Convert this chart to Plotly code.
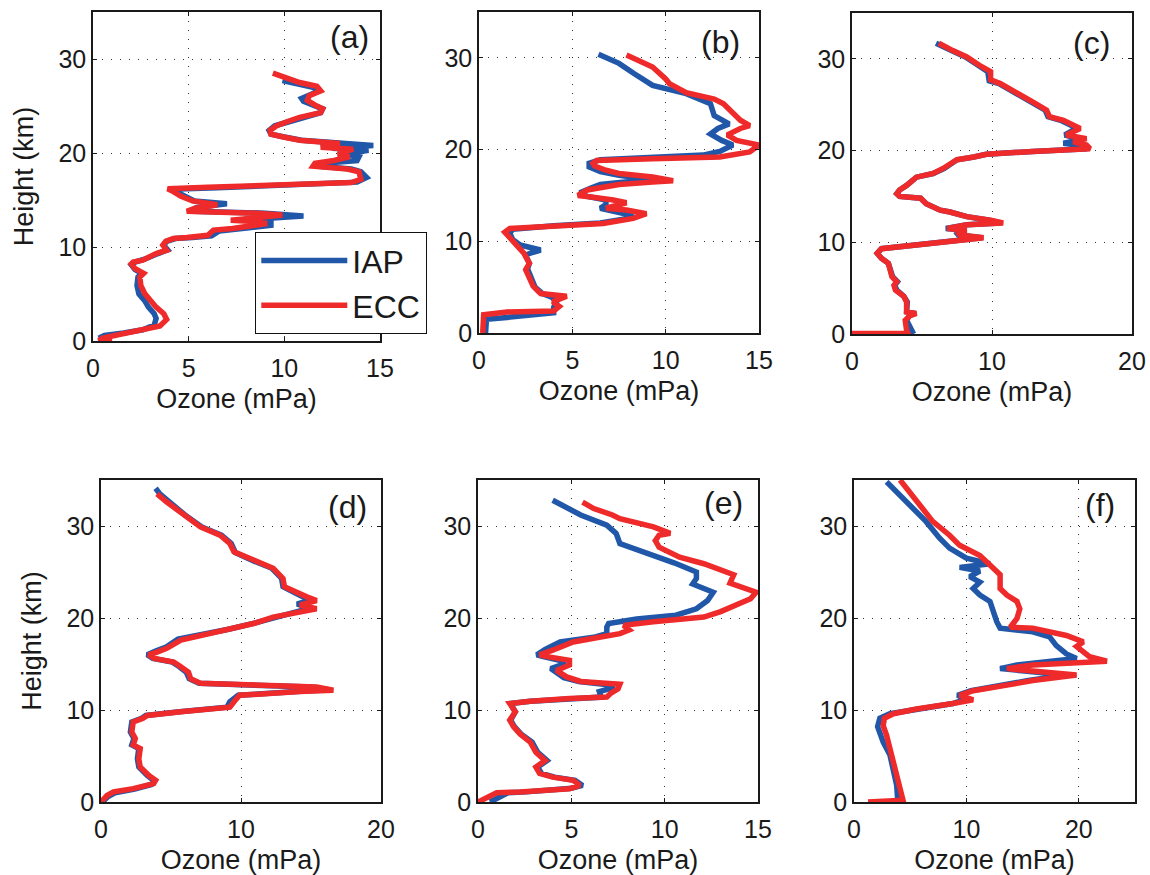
import plotly.graph_objects as go

# ---------------- data: (ozone mPa, height km) pairs ----------------
A_IAP = [(0.3,0.3),(0.6,0.6),(1.6,0.85),(2.6,1.2),(3.2,1.7),(3.3,2.4),(3.2,2.9),(2.9,3.6),(2.7,4.3),(2.4,5.0),(2.3,5.9),(2.35,6.8),(2.55,7.2),(2.2,7.6),(2.0,8.1),(2.2,8.4),(2.7,8.7),(3.0,9.0),(3.4,9.3),(3.9,9.7),(3.7,10.2),(3.85,10.6),(4.3,10.9),(5.2,11.0),(6.2,11.2),(6.6,11.7),(7.6,11.9),(9.3,12.3),(9.3,12.7),(8.0,12.9),(11.0,13.3),(9.0,13.6),(5.2,13.8),(5.4,14.2),(7.0,14.6),(5.3,14.9),(4.8,15.4),(4.3,15.9),(4.1,16.15),(6.5,16.3),(10.5,16.55),(13.8,16.9),(14.3,17.4),(14.0,18.0),(13.5,18.3),(11.8,18.6),(12.0,18.9),(13.8,19.2),(13.9,19.6),(13.2,19.9),(14.4,20.3),(12.5,20.5),(14.65,20.8),(12.2,21.1),(10.9,21.35),(10.0,21.7),(9.3,22.0),(9.2,22.4),(9.5,22.9),(10.2,23.3),(11.0,23.8),(11.9,24.3),(12.0,24.7),(11.6,25.0),(11.0,25.5),(10.9,25.8),(11.4,26.2),(11.8,26.6),(11.5,27.0),(10.6,27.4),(9.9,27.7)]
A_ECC = [(1.0,0.0),(0.3,0.05),(0.5,0.3),(1.5,0.7),(2.6,1.1),(3.5,1.6),(3.85,2.3),(3.7,2.9),(3.3,3.6),(3.0,4.35),(2.7,5.06),(2.5,5.9),(2.45,6.8),(2.65,7.2),(2.2,7.7),(2.0,8.2),(2.1,8.4),(2.6,8.6),(2.9,8.95),(3.3,9.3),(3.85,9.66),(3.65,10.2),(3.8,10.6),(4.2,10.9),(4.9,11.0),(6.0,11.25),(6.3,11.8),(7.3,11.96),(9.1,12.5),(8.4,12.7),(7.2,12.84),(9.9,13.4),(8.5,13.6),(4.9,13.8),(5.3,14.1),(6.5,14.5),(5.2,14.9),(4.6,15.4),(4.2,15.9),(3.9,16.2),(6.0,16.35),(10.0,16.55),(13.5,16.85),(14.0,17.2),(13.9,18.0),(13.3,18.3),(11.5,18.6),(11.6,18.9),(12.6,19.2),(13.4,19.6),(12.8,19.9),(13.6,20.4),(11.9,20.6),(12.9,21.0),(11.7,21.2),(10.8,21.35),(9.95,21.7),(9.3,22.0),(9.25,22.4),(9.6,22.9),(10.1,23.3),(10.8,23.8),(11.9,24.3),(12.0,24.7),(11.7,25.0),(11.2,25.6),(11.3,26.1),(11.9,26.6),(11.7,27.1),(10.8,27.5),(10.1,28.0),(9.4,28.5)]

B_IAP = [(0.35,0.0),(0.4,1.0),(0.4,1.5),(1.5,1.7),(3.0,2.0),(4.0,2.2),(4.0,2.8),(4.15,3.4),(3.9,3.9),(3.4,4.3),(3.0,5.0),(2.8,6.2),(2.6,7.0),(2.7,7.6),(2.5,8.5),(2.9,8.8),(3.3,9.05),(2.8,9.3),(2.2,9.6),(1.8,10.2),(1.65,10.9),(1.8,11.3),(4.0,11.7),(6.5,12.0),(8.3,12.6),(8.0,12.9),(7.0,13.3),(6.5,13.6),(6.8,14.0),(6.8,14.5),(5.8,14.9),(5.4,15.3),(6.0,15.8),(6.5,16.2),(8.5,16.6),(9.3,16.7),(7.5,17.2),(6.5,17.6),(5.9,18.1),(5.9,18.5),(6.5,18.9),(9.5,19.1),(12.0,19.4),(12.9,19.8),(13.6,20.5),(13.0,21.0),(12.4,21.7),(12.8,22.3),(13.4,22.8),(12.6,23.7),(12.4,25.0),(11.1,26.1),(10.0,26.6),(9.3,27.0),(8.3,28.3),(7.5,29.4),(6.4,30.4)]
B_ECC = [(0.2,0.0),(0.2,1.0),(0.25,2.0),(1.5,2.3),(4.0,2.4),(4.3,2.9),(3.95,3.4),(4.7,4.0),(3.3,4.3),(2.9,5.1),(2.7,6.2),(2.5,6.9),(2.7,7.6),(2.4,8.7),(2.0,9.6),(1.56,10.5),(1.38,11.0),(1.65,11.4),(4.0,11.7),(6.65,11.95),(8.26,12.5),(8.97,13.0),(7.9,13.4),(6.8,13.6),(7.9,14.2),(7.2,14.5),(5.9,14.85),(5.3,15.0),(5.8,15.6),(7.5,16.2),(9.3,16.45),(10.4,16.6),(9.3,17.0),(7.5,17.4),(6.8,17.75),(6.2,18.2),(6.1,18.5),(6.3,18.8),(9.3,19.0),(12.9,19.2),(14.5,19.75),(15.0,20.5),(13.8,21.0),(13.3,21.6),(14.0,22.3),(14.5,22.6),(14.0,23.2),(13.5,24.2),(13.1,25.0),(12.6,25.5),(11.1,26.2),(10.2,27.2),(10.0,27.7),(9.3,29.0),(8.6,29.7),(7.9,30.3)]

C_IAP = [(4.4,0.0),(4.2,0.6),(3.9,1.5),(4.1,2.0),(4.5,2.25),(3.9,2.45),(3.95,3.5),(3.7,4.1),(3.2,4.8),(3.05,5.3),(3.25,5.7),(2.9,6.25),(2.75,7.0),(2.6,7.7),(2.1,8.25),(1.8,8.8),(2.1,9.3),(3.4,9.5),(5.3,9.9),(7.2,10.2),(9.3,10.5),(7.6,10.8),(7.4,11.15),(8.1,11.3),(6.7,11.5),(8.2,11.9),(10.6,12.1),(9.8,12.4),(8.2,12.8),(7.0,13.3),(6.3,13.5),(5.3,14.2),(4.9,14.8),(3.4,15.0),(3.2,15.3),(3.4,15.7),(3.9,16.2),(4.6,17.1),(5.8,17.5),(6.6,18.05),(7.5,19.0),(8.7,19.3),(9.6,19.6),(12.9,19.9),(16.8,20.2),(16.5,20.5),(15.1,20.8),(16.5,21.2),(15.2,21.7),(16.0,22.4),(15.6,22.8),(14.9,23.3),(14.0,23.7),(13.8,24.4),(12.8,25.3),(11.7,26.2),(10.5,27.3),(9.8,27.6),(9.7,28.6),(9.0,29.3),(8.1,30.2),(7.1,30.9),(6.0,31.7)]
C_ECC = [(0.0,0.05),(2.0,0.05),(4.0,0.05),(3.9,0.4),(3.8,1.5),(4.15,2.0),(4.6,2.25),(3.9,2.4),(3.9,3.5),(3.7,4.1),(3.1,4.8),(3.0,5.3),(3.2,5.7),(2.85,6.25),(2.7,7.0),(2.6,7.7),(2.1,8.25),(1.8,8.8),(2.1,9.3),(3.4,9.5),(5.3,9.9),(7.2,10.2),(9.4,10.5),(7.7,10.8),(7.5,11.15),(8.2,11.3),(6.8,11.5),(8.2,11.9),(10.8,12.1),(9.9,12.4),(8.2,12.8),(7.0,13.3),(6.3,13.5),(5.3,14.2),(4.9,14.8),(3.4,15.0),(3.2,15.3),(3.4,15.7),(3.9,16.2),(4.6,17.1),(5.8,17.5),(6.5,18.05),(7.5,19.0),(8.7,19.3),(9.6,19.6),(12.9,19.9),(17.0,20.2),(16.75,20.6),(15.8,20.95),(16.75,21.3),(15.3,21.7),(16.3,22.4),(15.8,22.8),(15.1,23.3),(14.1,23.7),(13.9,24.4),(12.9,25.3),(11.8,26.2),(10.6,27.3),(9.9,27.7),(9.9,28.6),(9.1,29.3),(8.2,30.2),(7.2,30.9),(6.2,31.7)]

D_IAP = [(0.1,0.0),(0.5,0.6),(1.0,1.0),(2.4,1.4),(3.6,1.9),(3.8,2.3),(3.3,2.9),(2.7,3.8),(2.6,4.7),(2.7,5.8),(2.2,6.2),(2.35,6.9),(2.1,7.6),(2.2,8.7),(2.9,9.1),(3.2,9.4),(5.6,9.8),(9.0,10.3),(9.2,10.9),(9.8,11.6),(14.0,12.0),(16.3,12.2),(15.0,12.5),(11.5,12.7),(7.0,12.9),(6.3,13.4),(6.1,14.1),(5.6,14.7),(5.1,15.2),(3.7,15.6),(3.3,16.0),(3.9,16.4),(4.6,16.8),(5.5,17.7),(7.2,18.2),(9.2,18.8),(11.1,19.5),(12.5,20.1),(14.2,20.8),(15.0,21.1),(14.0,21.5),(15.0,22.0),(14.3,22.4),(13.6,22.9),(13.0,23.4),(12.9,24.3),(12.2,25.4),(10.9,26.2),(9.6,27.1),(9.3,28.1),(8.6,29.0),(7.2,29.9),(6.0,31.2),(4.9,32.6),(4.2,33.5),(3.9,34.1)]
D_ECC = [(0.0,0.0),(0.43,0.7),(0.9,1.1),(2.3,1.45),(3.76,2.0),(3.9,2.36),(3.4,2.9),(2.8,3.8),(2.7,4.7),(2.8,5.8),(2.3,6.2),(2.45,6.9),(2.2,7.6),(2.3,8.7),(3.0,9.1),(3.3,9.4),(5.7,9.8),(9.2,10.3),(9.5,10.9),(9.9,11.6),(14.2,12.0),(16.6,12.15),(15.4,12.5),(11.8,12.7),(7.1,12.9),(6.4,13.4),(6.25,14.1),(5.7,14.7),(5.2,15.2),(3.8,15.6),(3.4,16.0),(4.0,16.3),(4.7,16.7),(5.7,17.6),(7.1,18.1),(9.0,18.7),(10.9,19.4),(12.3,20.1),(14.2,20.7),(15.4,21.0),(14.2,21.4),(15.4,21.9),(14.7,22.3),(13.8,22.9),(13.1,23.4),(13.0,24.3),(12.3,25.4),(10.9,26.3),(9.5,27.2),(9.2,28.1),(8.5,29.0),(7.1,29.9),(5.9,31.2),(4.7,32.6),(4.0,33.5)]

E_IAP = [(0.64,0.0),(1.36,0.7),(1.6,1.0),(2.6,1.1),(5.0,1.5),(5.6,1.8),(5.2,2.36),(4.1,2.7),(3.4,3.1),(3.2,3.8),(3.7,4.5),(3.2,5.4),(2.9,6.5),(2.3,7.4),(1.95,8.2),(1.75,8.9),(2.0,9.8),(1.75,10.7),(2.8,10.95),(4.9,11.2),(6.6,11.4),(6.5,12.0),(7.2,12.4),(7.2,12.7),(6.5,12.9),(5.4,13.1),(4.6,13.5),(3.9,14.5),(4.6,15.0),(4.6,15.3),(3.5,15.8),(3.15,16.0),(3.6,16.6),(4.4,17.4),(6.2,17.9),(6.9,18.3),(6.9,19.0),(7.0,19.4),(8.5,19.9),(10.6,20.3),(11.7,21.0),(12.3,21.9),(12.6,22.8),(12.0,23.3),(11.5,23.7),(11.7,24.3),(11.7,25.0),(10.5,26.0),(9.4,26.8),(7.6,28.1),(7.4,29.2),(6.9,30.1),(5.5,31.2),(4.6,32.2),(4.0,32.8)]
E_ECC = [(0.0,0.0),(0.8,0.7),(1.0,1.0),(2.25,1.1),(4.9,1.45),(5.46,1.8),(5.1,2.36),(4.0,2.7),(3.3,3.1),(3.1,3.8),(3.6,4.5),(3.1,5.4),(2.8,6.5),(2.25,7.4),(1.9,8.2),(1.7,8.9),(2.0,9.8),(1.7,10.7),(2.8,10.95),(4.9,11.25),(6.9,11.4),(7.1,11.8),(7.5,12.3),(7.6,12.8),(6.9,12.9),(5.5,13.1),(4.75,13.6),(4.2,14.3),(4.9,14.9),(4.9,15.4),(3.7,15.8),(3.3,16.0),(4.0,16.5),(5.1,17.4),(6.2,17.8),(7.6,18.3),(8.1,18.7),(7.8,19.2),(9.4,19.6),(12.1,20.1),(13.0,20.7),(13.8,21.4),(14.6,22.1),(14.9,22.8),(14.4,23.2),(13.5,23.8),(13.7,24.7),(13.1,25.2),(12.1,25.9),(10.8,26.6),(9.7,27.7),(9.5,28.4),(9.7,29.0),(10.3,29.2),(9.4,29.9),(7.6,30.8),(7.2,31.2),(6.2,31.9),(5.6,32.6)]

F_IAP = [(3.9,0.0),(3.8,1.8),(3.2,5.1),(2.6,6.5),(2.1,8.2),(2.3,9.1),(3.2,9.6),(5.5,10.1),(8.8,10.7),(10.0,11.2),(9.2,11.6),(10.4,12.1),(13.0,12.7),(15.5,13.2),(18.9,13.8),(15.0,14.2),(13.0,14.5),(14.5,14.9),(19.8,15.6),(18.9,16.1),(18.0,17.0),(17.4,17.95),(15.9,18.5),(13.0,18.9),(12.7,19.6),(12.4,20.7),(12.1,21.8),(11.2,22.5),(10.6,23.2),(11.2,23.9),(10.3,24.5),(11.2,25.1),(9.4,25.5),(12.1,25.9),(10.0,26.5),(8.5,27.6),(7.6,28.7),(6.4,30.5),(4.7,32.6),(3.5,34.0),(2.9,34.8)]
F_ECC = [(1.25,0.0),(4.36,0.2),(4.1,1.45),(3.8,2.9),(3.6,4.35),(3.3,5.8),(2.9,7.25),(2.6,8.3),(2.7,9.1),(3.5,9.6),(5.55,10.1),(8.8,10.7),(10.6,11.1),(9.4,11.6),(10.6,12.1),(13.6,12.7),(15.9,13.2),(19.8,13.8),(16.5,14.2),(13.6,14.5),(15.9,14.9),(22.5,15.3),(20.95,15.8),(20.4,16.3),(19.8,16.9),(20.4,17.4),(18.9,18.1),(15.9,18.9),(13.9,19.0),(14.5,19.95),(14.75,21.0),(14.5,21.8),(13.6,22.5),(13.0,23.2),(13.0,24.7),(12.4,25.4),(11.2,26.8),(9.4,27.9),(8.5,29.0),(7.0,30.5),(5.8,32.3),(4.7,34.1),(4.1,35.0)]

PANEL_LABELS = ["(a)", "(b)", "(c)", "(d)", "(e)", "(f)"]
X_MAX = [15, 15, 20, 20, 15, 25]
X_TICKS = [[0, 5, 10, 15], [0, 5, 10, 15], [0, 10, 20], [0, 10, 20], [0, 5, 10, 15], [0, 10, 20]]
Y_TICKS = [0, 10, 20, 30]
Y_MAX = 35
SERIES_NAMES = ["IAP", "ECC"]
PROFILES = [(A_IAP, A_ECC), (B_IAP, B_ECC), (C_IAP, C_ECC), (D_IAP, D_ECC), (E_IAP, E_ECC), (F_IAP, F_ECC)]

# ---------------- styling / layout ----------------
W, H = 1150, 875
BLUE = "#2157A8"
RED = "#EE2A2A"
INK = "#1a1a1a"
FONT = "Liberation Sans, Arial, Helvetica, sans-serif"
# pixel boxes (left, right, top, bottom)
BOXES = [(93, 380, 12, 341), (479, 759, 12, 333), (852, 1132, 13, 334),
         (101, 381, 480, 802), (478, 758, 480, 802), (854, 1135, 480, 802)]
LABEL_POS = [(0.895, 0.924), (0.861, 0.906), (0.857, 0.907),
             (0.879, 0.916), (0.875, 0.929), (0.875, 0.922)]

fig = go.Figure()
annotations = []
layout = dict(
    width=W, height=H, margin=dict(l=0, r=0, t=0, b=0, autoexpand=False),
    paper_bgcolor="white", plot_bgcolor="white",
    font=dict(family=FONT, size=25, color=INK),
    showlegend=True,
    legend=dict(x=255 / W, y=1 - 232 / H, xanchor="left", yanchor="top",
                bgcolor="white", bordercolor="#111", borderwidth=1.3,
                font=dict(size=32, family=FONT, color=INK),
                itemwidth=86, tracegroupgap=0),
)

for i, ((iap, ecc), box) in enumerate(zip(PROFILES, BOXES)):
    n = "" if i == 0 else str(i + 1)
    xa, ya = "x" + n, "y" + n
    for name, data, col in ((SERIES_NAMES[0], iap, BLUE), (SERIES_NAMES[1], ecc, RED)):
        fig.add_trace(go.Scatter(
            x=[p[0] for p in data], y=[p[1] for p in data],
            mode="lines", name=name, line=dict(color=col, width=5.5),
            xaxis=xa, yaxis=ya, showlegend=(i == 0), hoverinfo="skip"))
    l, r, t, b = box
    common = dict(showline=True, linecolor=INK, linewidth=1.5, mirror="ticks",
                  ticks="inside", ticklen=4, tickcolor=INK, tickwidth=1,
                  showgrid=True, gridcolor="#333333", gridwidth=1, griddash="1px,8px",
                  zeroline=False, automargin=False,
                  tickfont=dict(size=25, family=FONT, color=INK))
    layout["xaxis" + n] = dict(common, domain=[l / W, r / W], anchor=ya,
                               range=[0, X_MAX[i]], tickvals=X_TICKS[i],
                               ticklabelstandoff=4,
                               title=dict(text="Ozone (mPa)", font=dict(size=27, family=FONT, color=INK),
                                          standoff=8))
    yaxis = dict(common, domain=[1 - b / H, 1 - t / H], anchor=xa,
                 range=[0, Y_MAX], tickvals=Y_TICKS)
    if i in (0, 3):
        yaxis["title"] = dict(text="Height (km)", font=dict(size=27, family=FONT, color=INK),
                              standoff=17)
    layout["yaxis" + n] = yaxis
    lx, ly = LABEL_POS[i]
    annotations.append(dict(text=PANEL_LABELS[i], xref=xa + " domain", yref=ya + " domain",
                            x=lx, y=ly, xanchor="center", yanchor="middle", showarrow=False,
                            font=dict(size=32, family=FONT, color=INK)))

layout["annotations"] = annotations
fig.update_layout(**layout)
fig.write_html("out.html", config={"displayModeBar": False},
               post_script="document.body.style.margin='0';document.body.style.padding='0';")
